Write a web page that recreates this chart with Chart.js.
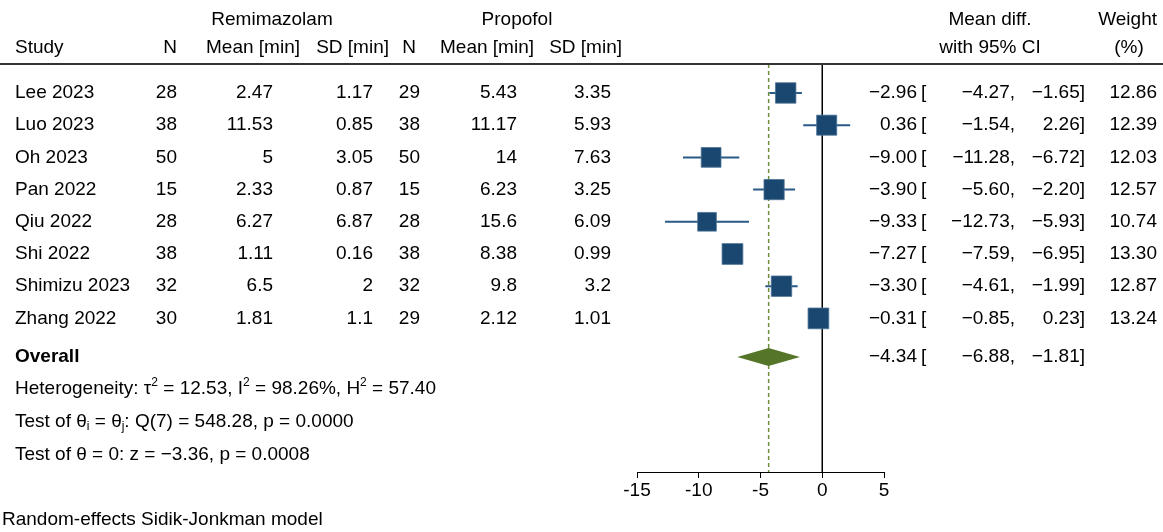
<!DOCTYPE html>
<html><head><meta charset="utf-8">
<script src="https://cdn.jsdelivr.net/npm/chart.js@4/dist/chart.umd.min.js"></script>
<style>html,body{margin:0;padding:0;background:#fff;}canvas{display:block;}</style>
</head><body>
<canvas id="c" width="1163" height="532"></canvas>
<script>
// ---------- data ----------
const studies   = ["Lee 2023","Luo 2023","Oh 2023","Pan 2022","Qiu 2022","Shi 2022","Shimizu 2023","Zhang 2022"];
const remiN     = ["28","38","50","15","28","38","32","30"];
const remiMean  = ["2.47","11.53","5","2.33","6.27","1.11","6.5","1.81"];
const remiSD    = ["1.17","0.85","3.05","0.87","6.87","0.16","2","1.1"];
const propN     = ["29","38","50","15","28","38","32","29"];
const propMean  = ["5.43","11.17","14","6.23","15.6","8.38","9.8","2.12"];
const propSD    = ["3.35","5.93","7.63","3.25","6.09","0.99","3.2","1.01"];
const meanDiff  = [-2.96, 0.36, -9.00, -3.90, -9.33, -7.27, -3.30, -0.31];
const ciLow     = [-4.27, -1.54, -11.28, -5.60, -12.73, -7.59, -4.61, -0.85];
const ciHigh    = [-1.65, 2.26, -6.72, -2.20, -5.93, -6.95, -1.99, 0.23];
const weights   = [12.86, 12.39, 12.03, 12.57, 10.74, 13.30, 12.87, 13.24];
const overall   = [-4.34, -6.88, -1.81];          // estimate, lower, upper
const hetStats  = ["12.53", "98.26%", "57.40"];    // tau2, I2, H2
const qTest     = ["7", "548.28", "0.0000"];       // df, Q, p
const zTest     = ["−3.36", "0.0008"];             // z, p
const xTicks    = [-15, -10, -5, 0, 5];

// ---------- layout ----------
const FONT = '"Liberation Sans", Arial, Helvetica, sans-serif';
const FS = 19;
const NAVY = '#1a476f', CILINE = '#2a5a85', GREEN = '#557529', DASH = '#6e8f3e';
const Y_MIN = 0.1, Y_MAX = 12.77;
const studyRows = studies.map((_, i) => i + 1);
const overallRow = 9.2;
const statRows = [10.2, 11.22, 12.24];
// column anchors: header right edge, value right edge
const dataCols = [
  {title: 'N',          hx: 177, vx: 177, vals: remiN},
  {title: 'Mean [min]', hx: 300, vx: 273, vals: remiMean},
  {title: 'SD [min]',   hx: 389, vx: 373, vals: remiSD},
  {title: 'N',          hx: 416, vx: 420, vals: propN},
  {title: 'Mean [min]', hx: 534, vx: 517, vals: propMean},
  {title: 'SD [min]',   hx: 622, vx: 611, vals: propSD}
];

const fmt = v => (v < 0 ? '−' : '') + Math.abs(v).toFixed(2);

const ciData = [];
studies.forEach((_, i) => {
  ciData.push({x: ciLow[i], y: studyRows[i]}, {x: ciHigh[i], y: studyRows[i]}, {x: ciHigh[i], y: null});
});

const boxRadius = weights.map(w => 5.7 * Math.sqrt(w) / Math.SQRT2);

const forestPlugin = {
  id: 'forest',
  afterDatasetsDraw(chart) {
    const {ctx, scales: {x, y}} = chart;
    const yc = y.getPixelForValue(overallRow);
    ctx.save();
    ctx.fillStyle = GREEN;
    ctx.beginPath();
    ctx.moveTo(x.getPixelForValue(overall[1]), yc);
    ctx.lineTo(x.getPixelForValue(overall[0]), yc - 9);
    ctx.lineTo(x.getPixelForValue(overall[2]), yc);
    ctx.lineTo(x.getPixelForValue(overall[0]), yc + 9);
    ctx.closePath();
    ctx.fill();
    ctx.restore();
  },
  afterDraw(chart) {
    const {ctx, scales: {y}, chartArea} = chart;
    ctx.save();
    ctx.fillStyle = '#000';
    ctx.textBaseline = 'middle';
    const t = (s, px, py, align, bold) => {
      ctx.font = (bold ? 'bold ' : '') + FS + 'px ' + FONT;
      ctx.textAlign = align || 'left';
      ctx.fillText(s, px, py);
    };
    const rich = (parts, px, py) => {
      ctx.textAlign = 'left';
      let cx = px;
      parts.forEach(p => {
        let s = p, dy = 0, size = FS;
        if (typeof p === 'object') { s = p.t; size = 12; dy = p.sup ? -7 : 5; }
        ctx.font = size + 'px ' + FONT;
        ctx.fillText(s, cx, py + dy);
        cx += ctx.measureText(s).width;
      });
    };
    // header rule
    ctx.fillStyle = '#333';
    ctx.fillRect(0, chartArea.top - 1, chart.width, 2);
    ctx.fillStyle = '#000';
    const h1 = 20, h2 = 48;
    t('Remimazolam', 272, h1, 'center');
    t('Propofol', 517, h1, 'center');
    t('Mean diff.', 990, h1, 'center');
    t('Weight', 1157, h1, 'right');
    t('Study', 15, h2);
    dataCols.forEach(c => t(c.title, c.hx, h2, 'right'));
    t('with 95% CI', 990, h2, 'center');
    t('(%)', 1129, h2, 'center');
    const ciText = (py, est, lo, hi) => {
      t(fmt(est), 917, py, 'right');
      t('[', 921, py, 'left');
      t(fmt(lo) + ',', 1015, py, 'right');
      t(fmt(hi) + ']', 1085, py, 'right');
    };
    studies.forEach((s, i) => {
      const py = y.getPixelForValue(studyRows[i]);
      t(s, 15, py);
      dataCols.forEach(c => t(c.vals[i], c.vx, py, 'right'));
      ciText(py, meanDiff[i], ciLow[i], ciHigh[i]);
      t(weights[i].toFixed(2), 1157, py, 'right');
    });
    const po = y.getPixelForValue(overallRow);
    t('Overall', 15, po, 'left', true);
    ciText(po, overall[0], overall[1], overall[2]);
    rich(['Heterogeneity: τ', {t: '2', sup: 1}, ' = ' + hetStats[0] + ', I', {t: '2', sup: 1},
          ' = ' + hetStats[1] + ', H', {t: '2', sup: 1}, ' = ' + hetStats[2]], 15, y.getPixelForValue(statRows[0]));
    rich(['Test of θ', {t: 'i'}, ' = θ', {t: 'j'}, ': Q(' + qTest[0] + ') = ' + qTest[1] + ', p = ' + qTest[2]],
         15, y.getPixelForValue(statRows[1]));
    rich(['Test of θ = 0: z = ' + zTest[0] + ', p = ' + zTest[1]], 15, y.getPixelForValue(statRows[2]));
    t('Random-effects Sidik-Jonkman model', 2, 520);
    ctx.restore();
  }
};

new Chart(document.getElementById('c'), {
  type: 'scatter',
  data: {
    datasets: [
      { data: meanDiff.map((v, i) => ({x: v, y: studyRows[i]})), pointStyle: 'rect',
        pointRadius: boxRadius, backgroundColor: NAVY, borderColor: '#4d7397', borderWidth: 0.8, order: 0 },
      { data: ciData, showLine: true, spanGaps: false, pointRadius: 0, borderColor: CILINE, borderWidth: 2, order: 1 },
      { data: [{x: 0, y: Y_MIN}, {x: 0, y: Y_MAX}], showLine: true, pointRadius: 0, borderColor: '#000', borderWidth: 1.5, order: 2 },
      { data: [{x: overall[0], y: Y_MIN}, {x: overall[0], y: Y_MAX}], showLine: true, pointRadius: 0,
        borderColor: DASH, borderWidth: 1.5, borderDash: [4, 3], order: 3 }
    ]
  },
  options: {
    responsive: false, animation: false, devicePixelRatio: 1,
    layout: { padding: { left: 637, right: 279, top: 64, bottom: 0 } },
    plugins: { legend: { display: false }, tooltip: { enabled: false } },
    scales: {
      x: {
        type: 'linear', min: -15, max: 5, position: 'bottom',
        afterBuildTicks: s => { s.ticks = xTicks.map(v => ({value: v})); },
        afterFit: s => { s.height = 60; },
        ticks: { color: '#000', font: { size: 19, family: FONT }, padding: 1, maxRotation: 0,
                 callback: v => String(v) },
        grid: { drawOnChartArea: false, drawTicks: true, tickLength: 6, color: '#000', lineWidth: 1 },
        border: { display: true, color: '#000', width: 1 }
      },
      y: { type: 'linear', min: Y_MIN, max: Y_MAX, reverse: true, display: false }
    }
  },
  plugins: [forestPlugin]
});
</script>
</body></html>
